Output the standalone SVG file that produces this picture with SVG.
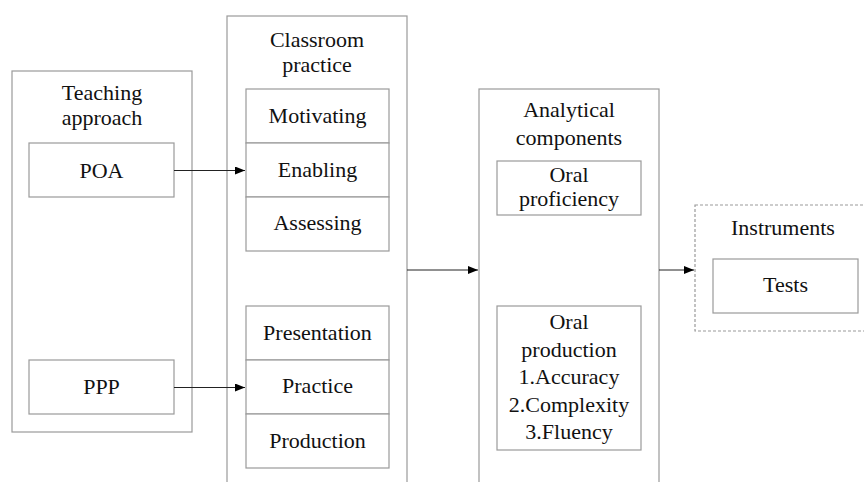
<svg xmlns="http://www.w3.org/2000/svg" width="864" height="482" viewBox="0 0 864 482">
<rect width="864" height="482" fill="#fff"/>
<defs>
<marker id="ah" markerWidth="10" markerHeight="8" refX="10" refY="4" orient="auto" markerUnits="userSpaceOnUse">
<path d="M0,0 L10,4 L0,8 Z" fill="#000"/>
</marker>
</defs>
<g fill="#fff" stroke="#9a9a9a" stroke-width="1.2">
<g id="teaching"><rect x="12" y="71" width="180" height="361"/></g>
<g id="poa"><rect x="29" y="143" width="145" height="54"/></g>
<g id="ppp"><rect x="29" y="360" width="145" height="54"/></g>
<g id="classroom"><rect x="227" y="16" width="180" height="480"/></g>
<g id="motivating"><rect x="246" y="89" width="143" height="54"/></g>
<g id="enabling"><rect x="246" y="143" width="143" height="54"/></g>
<g id="assessing"><rect x="246" y="197" width="143" height="54"/></g>
<g id="presentation"><rect x="246" y="306" width="143" height="54"/></g>
<g id="practice"><rect x="246" y="360" width="143" height="54"/></g>
<g id="production"><rect x="246" y="414" width="143" height="54"/></g>
<g id="analytical"><rect x="479" y="89" width="180" height="410"/></g>
<g id="oral-proficiency"><rect x="497" y="161" width="144" height="54"/></g>
<g id="oral-production"><rect x="497" y="306" width="144" height="144"/></g>
<g id="instruments"><rect x="695" y="205" width="180" height="126" stroke-dasharray="3,2"/></g>
<g id="tests"><rect x="713" y="259" width="145" height="54"/></g>
</g>
<g id="labels" fill="#111" text-anchor="middle">
<text x="102" y="100" font-size="22" font-family="Liberation Serif">Teaching</text>
<text x="102" y="125" font-size="22" font-family="Liberation Serif">approach</text>
<text x="101.5" y="178" font-size="22" font-family="Liberation Serif">POA</text>
<text x="101.5" y="394" font-size="22" font-family="Liberation Serif">PPP</text>
<text x="317" y="47" font-size="22" font-family="Liberation Serif">Classroom</text>
<text x="317" y="72" font-size="22" font-family="Liberation Serif">practice</text>
<text x="317.5" y="123" font-size="22" font-family="Liberation Serif">Motivating</text>
<text x="317.5" y="177" font-size="22" font-family="Liberation Serif">Enabling</text>
<text x="317.5" y="230" font-size="22" font-family="Liberation Serif">Assessing</text>
<text x="317.5" y="340" font-size="22" font-family="Liberation Serif">Presentation</text>
<text x="317.5" y="393" font-size="22" font-family="Liberation Serif">Practice</text>
<text x="317.5" y="448" font-size="22" font-family="Liberation Serif">Production</text>
<text x="569" y="117" font-size="22" font-family="Liberation Serif">Analytical</text>
<text x="569" y="145" font-size="22" font-family="Liberation Serif">components</text>
<text x="569" y="182" font-size="22" font-family="Liberation Serif">Oral</text>
<text x="569" y="206" font-size="22" font-family="Liberation Serif">proficiency</text>
<text x="569" y="329" font-size="22" font-family="Liberation Serif">Oral</text>
<text x="569" y="357" font-size="22" font-family="Liberation Serif">production</text>
<text x="569" y="384" font-size="22" font-family="Liberation Serif">1.Accuracy</text>
<text x="569" y="412" font-size="22" font-family="Liberation Serif">2.Complexity</text>
<text x="569" y="439" font-size="22" font-family="Liberation Serif">3.Fluency</text>
<text x="783" y="235" font-size="22" font-family="Liberation Serif">Instruments</text>
<text x="785.5" y="292" font-size="22" font-family="Liberation Serif">Tests</text>
</g>
<g id="connectors" stroke="#222" stroke-width="1" fill="none" marker-end="url(#ah)">
<line x1="174" y1="170.5" x2="245" y2="170.5"/>
<line x1="174" y1="387.5" x2="245" y2="387.5"/>
<line x1="407" y1="270" x2="478" y2="270"/>
<line x1="659" y1="270" x2="694" y2="270"/>
</g>
</svg>
